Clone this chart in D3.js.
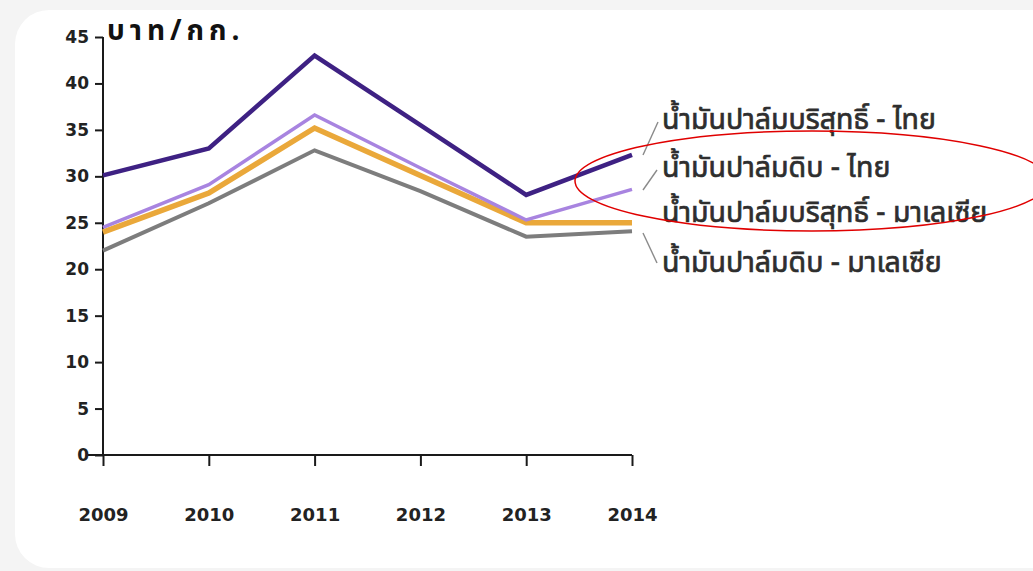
<!DOCTYPE html>
<html>
<head>
<meta charset="utf-8">
<title>Palm oil prices</title>
<script src="https://d3js.org/d3.v7.min.js"></script>
<style>
  body { margin:0; background:#f4f4f4; }
  svg { display:block; }
  .axis path, .axis line { stroke:#1a1a1a; stroke-width:2; }
  .axis text { font-family:"DejaVu Sans", sans-serif; font-weight:bold; fill:#222; }
</style>
</head>
<body>
<script>
// ---------- data ----------
var years = [2009, 2010, 2011, 2012, 2013, 2014];
var yTicks = [0, 5, 10, 15, 20, 25, 30, 35, 40, 45];
var refinedThai    = [30.1, 33.0, 43.0, 35.5, 28.0, 32.3];
var crudeThai      = [24.5, 29.1, 36.6, 30.9, 25.3, 28.6];
var refinedMalay   = [24.0, 28.2, 35.2, 30.1, 25.0, 25.0];
var crudeMalay     = [22.0, 27.1, 32.8, 28.4, 23.5, 24.1];
var seriesNames = ["น้ำมันปาล์มบริสุทธิ์ - ไทย", "น้ำมันปาล์มดิบ - ไทย",
                   "น้ำมันปาล์มบริสุทธิ์ - มาเลเซีย", "น้ำมันปาล์มดิบ - มาเลเซีย"];
var unitLabel = "บาท/กก.";

// ---------- layout ----------
var W = 1033, H = 571;
var thaiFont = "'Noto Sans Thai', 'Noto Sans', sans-serif";
var svg = d3.select("body").append("svg").attr("width", W).attr("height", H);

// white card
svg.append("rect").attr("x", 15).attr("y", 10).attr("width", 1060).attr("height", 558)
   .attr("rx", 34).attr("fill", "#fff");

var x = d3.scalePoint().domain(years).range([103, 632]);
var y = d3.scaleLinear().domain([0, 45]).range([455, 37]);

// y axis
var yAxis = d3.axisLeft(y).tickValues(yTicks).tickSize(8).tickSizeOuter(0).tickPadding(6);
var gy = svg.append("g").attr("class", "axis").attr("transform", "translate(103,0)").call(yAxis);
gy.select(".domain").attr("d", "M0," + y(45) + "V" + y(0));
gy.selectAll("text").attr("font-size", 17);

// x axis
var xAxis = d3.axisBottom(x).tickSize(11).tickSizeOuter(0).tickPadding(42);
var gx = svg.append("g").attr("class", "axis").attr("transform", "translate(0,455)").call(xAxis);
gx.select(".domain").attr("d", "M88,0H" + x(2014));
gx.selectAll("text").attr("font-size", 18);

// lines
var series = [
  {vals: crudeMalay,   color: "#7d7d7d", w: 4},
  {vals: refinedMalay, color: "#eaa83a", w: 5.5},
  {vals: crudeThai,    color: "#a884e0", w: 3.5},
  {vals: refinedThai,  color: "#3e2183", w: 4.5}
];
var line = d3.line().x(function(d, i){ return x(years[i]); }).y(function(d){ return y(d); });
series.forEach(function(s){
  svg.append("path").attr("d", line(s.vals)).attr("fill", "none")
     .attr("stroke", s.color).attr("stroke-width", s.w).attr("stroke-linejoin", "miter");
});

// unit
svg.append("text").attr("x", 107).attr("y", 40)
   .attr("font-family", thaiFont)
   .attr("font-weight", "bold").attr("font-size", 28).attr("fill", "#111")
   .attr("letter-spacing", 5)
   .text(unitLabel);

// legend labels with leader lines
var labelY = [129, 177, 222, 272];
var labelX = 662;
seriesNames.forEach(function(n, i){
  svg.append("text").attr("x", labelX).attr("y", labelY[i])
     .attr("font-family", thaiFont)
     .attr("font-size", 28.5).attr("fill", "#2e2e2e")
     .attr("stroke", "#2e2e2e").attr("stroke-width", 0.7)
     .text(n);
});
var leaders = [[643, 155, 658, 122], [643, 190, 657, 170], [643, 233, 657, 263]];
leaders.forEach(function(l){
  svg.append("line").attr("x1", l[0]).attr("y1", l[1]).attr("x2", l[2]).attr("y2", l[3])
     .attr("stroke", "#8a8a8a").attr("stroke-width", 1.4);
});

// red annotation ellipse
svg.append("ellipse").attr("cx", 812).attr("cy", 181).attr("rx", 237).attr("ry", 50)
   .attr("fill", "none").attr("stroke", "#e00000").attr("stroke-width", 1.5);
</script>
</body>
</html>
